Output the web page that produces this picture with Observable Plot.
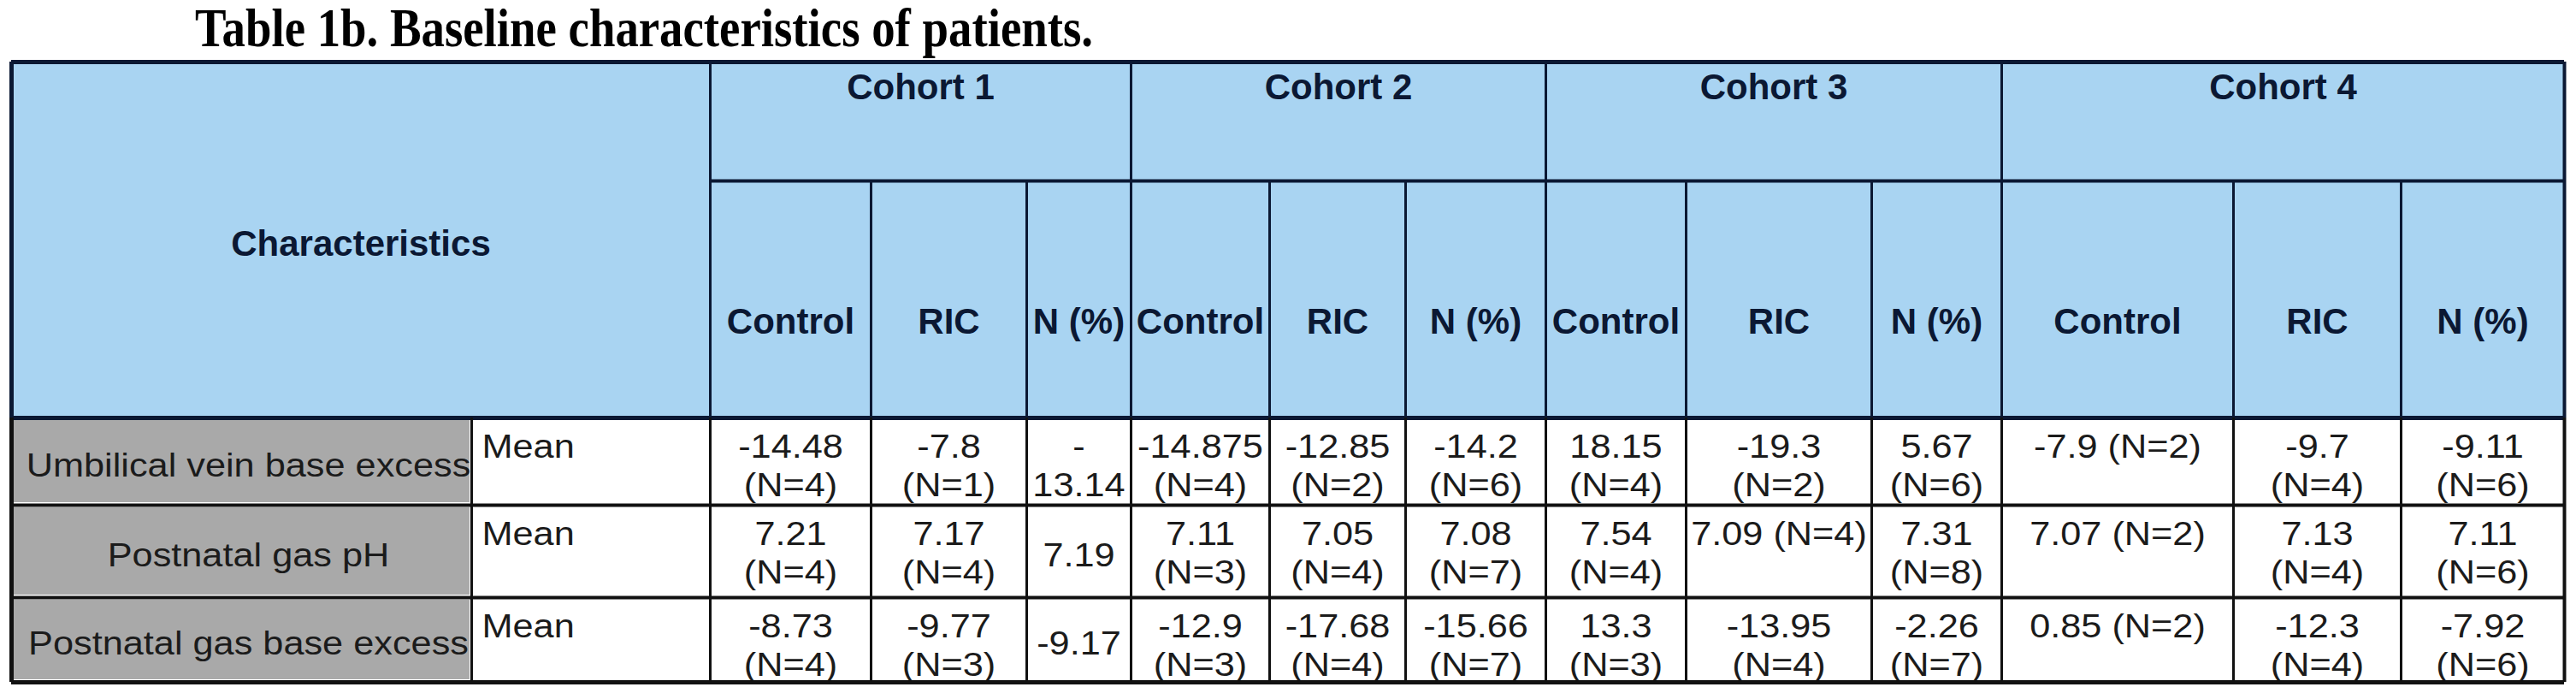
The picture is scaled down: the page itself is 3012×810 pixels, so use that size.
<!DOCTYPE html>
<html>
<head>
<meta charset="utf-8">
<script src="https://cdn.jsdelivr.net/npm/d3@7"></script>
<script src="https://cdn.jsdelivr.net/npm/@observablehq/plot@0.6"></script>
<style>
html, body { margin: 0; padding: 0; background: #fff; overflow: hidden; width: 3012px; height: 810px; }
#title { position: relative; height: 62px; }
#title span { position: absolute; left: 228px; top: 1px; font-family: "Liberation Serif", "Times New Roman", serif; font-weight: bold; font-size: 64px; line-height: 64px; white-space: nowrap; transform-origin: 0 0; color: #000; }
#chart svg { display: block; }
</style>
</head>
<body>
<div id="title"><span id="ttl">Table 1b. Baseline characteristics of patients.</span></div>
<div id="chart"></div>
<script>
// ---------------- data ----------------
const headerLabel = "Characteristics";
const cohorts = ["Cohort 1", "Cohort 2", "Cohort 3", "Cohort 4"];
const groups = ["Control", "RIC", "N (%)"];
const characteristics = ["Umbilical vein base excess", "Postnatal gas pH", "Postnatal gas base excess"];
const statistic = ["Mean", "Mean", "Mean"];
const umbilicalMean = [-14.48, -7.8, -13.14, -14.875, -12.85, -14.2, 18.15, -19.3, 5.67, -7.9, -9.7, -9.11];
const umbilicalN    = [4, 1, null, 4, 2, 6, 4, 2, 6, 2, 4, 6];
const phMean = [7.21, 7.17, 7.19, 7.11, 7.05, 7.08, 7.54, 7.09, 7.31, 7.07, 7.13, 7.11];
const phN    = [4, 4, null, 3, 4, 7, 4, 4, 8, 2, 4, 6];
const gasBeMean = [-8.73, -9.77, -9.17, -12.9, -17.68, -15.66, 13.3, -13.95, -2.26, 0.85, -12.3, -7.92];
const gasBeN    = [4, 3, null, 3, 4, 7, 3, 4, 7, 2, 4, 6];
const means = [umbilicalMean, phMean, gasBeMean];
const counts = [umbilicalN, phN, gasBeN];

// ---------------- layout ----------------
const W = 3012, H = 748, TOP = 62;
const colEdges = [13, 551, 830, 1018, 1200, 1322, 1484, 1643, 1807, 1971, 2188, 2340, 2611, 2807, 2998];
const yTop = 72, yCohort = 211, yHead = 488;
const rowEdges = [488, 590, 698, 797];
const BODY_FS = 39, SX = 1.11, HEAD_FS = 42;
const NAVY = "#0b1833", INK = "#111111";
const HEAD_FILL = "#a9d4f2", LABEL_FILL = "#a9a9a9";

const ctx = document.createElement("canvas").getContext("2d");
ctx.font = `${BODY_FS}px "Liberation Sans", Arial, sans-serif`;
const tw = s => ctx.measureText(s).width * SX;

function wrap(str, avail) {
  if (tw(str) <= avail) return [str];
  const parts = str.split(" ");
  const lines = [];
  let cur = "";
  for (const p of parts) {
    const cand = cur ? cur + " " + p : p;
    if (tw(cand) <= avail) cur = cand;
    else { if (cur) lines.push(cur); cur = p; }
  }
  if (cur) lines.push(cur);
  const out = [];
  for (const l of lines) {
    if (tw(l) > avail && l.startsWith("-")) { out.push("-"); out.push(l.slice(1)); }
    else out.push(l);
  }
  return out;
}

// body text lines
const bodyMiddle = [], bodyStart = [];
characteristics.forEach((c, i) => {
  const top = rowEdges[i], bot = rowEdges[i + 1], mid = (top + bot) / 2;
  bodyMiddle.push({x: (colEdges[0] + colEdges[1]) / 2 + 8, y: mid + 17, text: c});
  bodyStart.push({x: colEdges[1] + 12, y: top + 46, text: statistic[i]});
  means[i].forEach((m, j) => {
    const x1 = colEdges[j + 2], x2 = colEdges[j + 3];
    const n = counts[i][j];
    const s = n == null ? String(m) : `${m} (N=${n})`;
    const lines = wrap(s, x2 - x1 - 8);
    const cx = (x1 + x2) / 2;
    if (lines.length === 1 && n == null) bodyMiddle.push({x: cx, y: mid + 17, text: lines[0]});
    else lines.forEach((l, k) => bodyMiddle.push({x: cx, y: top + 46 + 45 * k, text: l}));
  });
});

// header text
const headText = [{x: (colEdges[0] + colEdges[2]) / 2, y: 298, text: headerLabel}];
cohorts.forEach((c, k) => headText.push({x: (colEdges[2 + 3 * k] + colEdges[5 + 3 * k]) / 2, y: 115, text: c}));
cohorts.forEach((c, k) => groups.forEach((g, j) => {
  const idx = 2 + 3 * k + j;
  headText.push({x: (colEdges[idx] + colEdges[idx + 1]) / 2, y: 389, text: g});
}));

// fills
const headRect = [{x1: colEdges[0], x2: colEdges[colEdges.length - 1], y1: yTop, y2: yHead}];
const labelRects = characteristics.map((c, i) => ({x1: colEdges[0] + 3, x2: colEdges[1] - 2, y1: rowEdges[i] + 3, y2: rowEdges[i + 1] - 3}));

// rules
const L = colEdges[0], R = colEdges[colEdges.length - 1], B = rowEdges[rowEdges.length - 1];
const hNavy = [
  {y: yTop, x1: L, x2: R, w: 5},
  {y: yCohort, x1: colEdges[2], x2: R, w: 4},
  {y: yHead, x1: L, x2: R, w: 5}
];
const hInk = rowEdges.slice(1).map((y, i) => ({y, x1: L, x2: R, w: i === rowEdges.length - 2 ? 5 : 4}));
const vNavy = [], vInk = [];
colEdges.forEach((x, idx) => {
  const outer = idx === 0 || idx === colEdges.length - 1;
  const major = outer || idx === 2 || (idx - 2) % 3 === 0;
  const w = idx === 0 ? 5 : outer ? 4 : 3;
  if (idx === 1) { vInk.push({x, y1: yHead, y2: B, w}); return; }
  vNavy.push({x, y1: major ? yTop : yCohort, y2: yHead, w});
  vInk.push({x, y1: yHead, y2: B, w});
});

const fontFam = '"Liberation Sans", Arial, sans-serif';
const plot = Plot.plot({
  width: W, height: H,
  marginTop: 0, marginRight: 0, marginBottom: 0, marginLeft: 0,
  x: {domain: [0, W], range: [0, W], axis: null},
  y: {domain: [TOP, TOP + H], range: [0, H], axis: null},
  style: {background: "#fff"},
  marks: [
    Plot.rect(headRect, {x1: "x1", x2: "x2", y1: "y1", y2: "y2", fill: HEAD_FILL}),
    Plot.rect(labelRects, {x1: "x1", x2: "x2", y1: "y1", y2: "y2", fill: LABEL_FILL}),
    Plot.text(headText, {x: "x", y: "y", text: "text", textAnchor: "middle", lineAnchor: "bottom",
      fontSize: HEAD_FS, fontWeight: "bold", fontFamily: fontFam, fill: NAVY}),
    Plot.text(bodyMiddle, {x: "x", y: "y", text: "text", textAnchor: "middle", lineAnchor: "bottom",
      fontSize: BODY_FS, fontFamily: fontFam, fill: "#1b1b1b"}),
    Plot.text(bodyStart, {x: "x", y: "y", text: "text", textAnchor: "start", lineAnchor: "bottom",
      fontSize: BODY_FS, fontFamily: fontFam, fill: "#1b1b1b"}),
    Plot.ruleY(hNavy, {y: "y", x1: "x1", x2: "x2", stroke: NAVY, strokeWidth: "w"}),
    Plot.ruleY(hInk, {y: "y", x1: "x1", x2: "x2", stroke: INK, strokeWidth: "w"}),
    Plot.ruleX(vNavy, {x: "x", y1: "y1", y2: "y2", stroke: NAVY, strokeWidth: "w"}),
    Plot.ruleX(vInk, {x: "x", y1: "y1", y2: "y2", stroke: INK, strokeWidth: "w"})
  ]
});

// horizontally widen body text (the source font is slightly wide)
plot.querySelectorAll('g[aria-label="text"]').forEach(g => {
  if (g.getAttribute("font-weight") === "bold") return;
  g.querySelectorAll("text").forEach(t => {
    const tr = t.getAttribute("transform");
    if (tr) t.setAttribute("transform", tr + ` scale(${SX},1)`);
    else {
      const x = +(t.getAttribute("x") || 0), y = +(t.getAttribute("y") || 0);
      t.removeAttribute("x"); t.removeAttribute("y");
      t.setAttribute("transform", `translate(${x},${y}) scale(${SX},1)`);
    }
  });
});
document.getElementById("chart").appendChild(plot);

// condense title to its measured width
const ttl = document.getElementById("ttl");
const tw0 = ttl.getBoundingClientRect().width;
ttl.style.transform = `scaleX(${1050 / tw0})`;
</script>
</body>
</html>
